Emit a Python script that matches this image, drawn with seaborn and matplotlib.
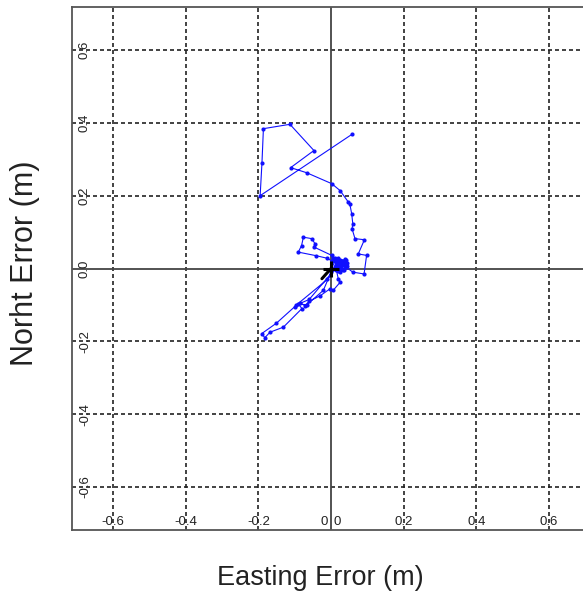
import numpy as np
import pandas as pd
import seaborn as sns
import matplotlib
matplotlib.use("Agg")
import matplotlib.pyplot as plt
import matplotlib.transforms as mtransforms

# ---- data ----
east_err = [0.057, -0.195, -0.190, -0.186, -0.113, -0.047, -0.111, -0.067, 0.002, 0.025,
            0.048, 0.052, 0.057, 0.060, 0.058, 0.066, 0.092, 0.075, 0.098, 0.091,
            0.060, 0.040, 0.030, 0.042, 0.020, 0.035, 0.015, 0.038, 0.025, 0.045,
            0.012, 0.030, 0.022, 0.040, 0.018, 0.028, 0.010, 0.034, 0.020, 0.044,
            0.026, 0.014, 0.036, 0.018, 0.032, 0.024, 0.040, 0.016, 0.030, 0.022,
            0.005, 0.002, -0.047, -0.044, -0.053, -0.076, -0.081, -0.090, -0.040, -0.010,
            0.003, 0.010, 0.000, -0.021, -0.067, -0.090, -0.080, -0.131, -0.168, -0.182,
            -0.191, -0.150, -0.100, -0.085, -0.072, -0.060, -0.030, -0.003, 0.006, 0.025,
            0.020, 0.015, 0.030, 0.022, 0.036, 0.012, -0.060, -0.095, -0.010, 0.020]
north_err = [0.368, 0.200, 0.290, 0.384, 0.396, 0.324, 0.277, 0.263, 0.233, 0.214,
             0.182, 0.176, 0.150, 0.123, 0.109, 0.082, 0.079, 0.040, 0.036, -0.015,
             -0.010, 0.005, 0.020, 0.012, 0.028, -0.005, 0.015, 0.025, -0.010, 0.008,
             0.030, 0.000, 0.018, 0.022, -0.008, 0.010, 0.020, -0.002, 0.005, 0.015,
             0.024, 0.006, 0.012, 0.026, -0.004, 0.016, 0.004, 0.012, 0.020, 0.008,
             0.029, 0.036, 0.059, 0.068, 0.082, 0.086, 0.063, 0.045, 0.035, 0.028,
             0.020, 0.005, -0.010, -0.060, -0.100, -0.097, -0.110, -0.161, -0.175, -0.190,
             -0.179, -0.150, -0.105, -0.095, -0.102, -0.090, -0.075, -0.056, -0.060, -0.038,
             -0.028, -0.005, 0.010, 0.002, 0.018, 0.000, -0.085, -0.100, -0.030, 0.010]
origin_east = [0.0, -0.025]
origin_north = [0.0, -0.028]
tick_vals = [-0.6, -0.4, -0.2, 0.2, 0.4, 0.6]
x_tick_labels = ["-0.6", "-0.4", "-0.2", "0.2", "0.4", "0.6"]
y_tick_labels = ["-0.6", "-0.4", "-0.2", "0.2", "0.4", "0.6"]

df = pd.DataFrame({"east": east_err, "north": north_err})

sns.set_style("white")
plt.rcParams["font.family"] = ["Liberation Sans", "DejaVu Sans"]

fig = plt.figure(figsize=(5.83, 5.93), dpi=100)
ax = fig.add_axes([72 / 583, 1 - 530 / 593, 1 - 72 / 583, 523 / 593])

x0 = -0.6 - 41 / 363.5
x1 = 0.6 + 34 / 363.5
y0 = -0.6 - 43 / 364
y1 = 0.6 + 43 / 364
ax.set_xlim(x0, x1)
ax.set_ylim(y0, y1)

# grid
for v in tick_vals:
    ax.axvline(v, color="#222222", lw=1.2, ls=(0, (2.4, 1.8)), zorder=1)
    ax.axhline(v, color="#222222", lw=1.2, ls=(0, (2.4, 1.8)), zorder=1)
ax.axvline(0, color="#444444", lw=1.3, zorder=1)
ax.axhline(0, color="#444444", lw=1.3, zorder=1)

sns.lineplot(data=df, x="east", y="north", sort=False, estimator=None,
             color="#1010ff", lw=0.8, marker="o", markersize=3,
             markeredgewidth=0, ax=ax, zorder=3)
ax.plot(origin_east, origin_north, color="black", lw=2.2, zorder=4)
ax.plot([0], [0], marker="+", color="black", markersize=11, mew=2.2, zorder=4)

ax.set_xticks([])
ax.set_yticks([])
ax.set_xlabel("")
ax.set_ylabel("")

for s in ["left", "top", "bottom"]:
    ax.spines[s].set_color("#555555")
    ax.spines[s].set_linewidth(1.3)
ax.spines["right"].set_visible(False)

tx = mtransforms.blended_transform_factory(ax.transData, ax.transAxes)
ty = mtransforms.blended_transform_factory(ax.transAxes, ax.transData)
fs = 9.5
for v, lab in zip(tick_vals, x_tick_labels):
    ax.text(v, 0.0153, lab, transform=tx, ha="center", va="center", fontsize=fs, color="#222222")
ax.text(0.018, 0.0153, "0", transform=tx, ha="center", va="center", fontsize=fs, color="#222222")
ax.text(-0.018, 0.0153, "0", transform=tx, ha="center", va="center", fontsize=fs, color="#222222")
for v, lab in zip(tick_vals + [0.0], y_tick_labels + ["0.0"]):
    ax.text(0.0254, v, lab, transform=ty, ha="center", va="center", rotation=90,
            fontsize=fs, color="#222222")

fig.text(320 / 583, 1 - 578 / 593, "Easting Error (m)", ha="center", va="center",
         fontsize=19.5, color="#222222")
fig.text(25 / 583, 1 - 263 / 593, "Norht Error (m)", ha="center", va="center",
         rotation=90, fontsize=22, color="#222222")

fig.savefig("out.png", dpi=100)
